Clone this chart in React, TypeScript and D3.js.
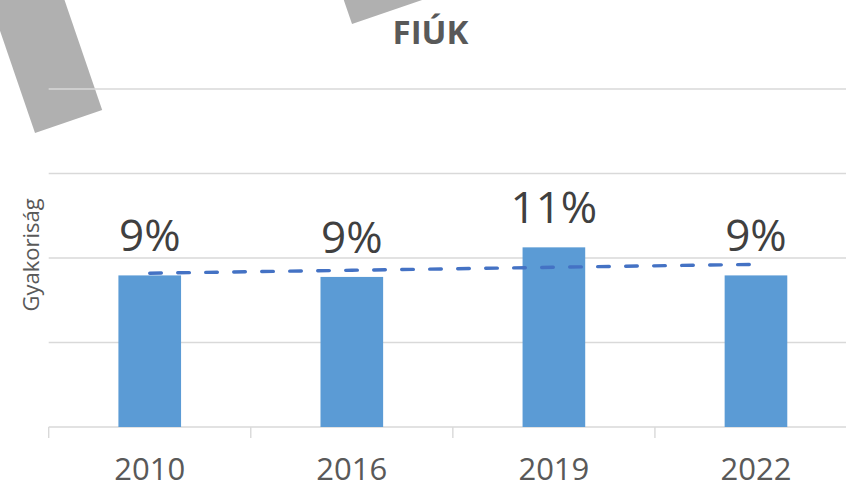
import React from "react";
import * as d3 from "d3";

// chart data
const years = ["2010", "2016", "2019", "2022"];
const values = [0.0897, 0.0888, 0.1063, 0.0897];
const yTicks = [0, 0.05, 0.1, 0.15, 0.2];
const title = "FIÚK";
const yLabel = "Gyakoriság";

const width = 846;
const height = 489;
const margin = { top: 89, right: -11, bottom: 62, left: 48.7 };
const font = "'Open Sans', sans-serif";

const App = () => {
  const x = d3
    .scaleBand<string>()
    .domain(years)
    .range([margin.left, width - margin.right])
    .padding(0);

  const y = d3
    .scaleLinear()
    .domain([0, 0.2])
    .range([height - margin.bottom, margin.top]);

  const barW = x.bandwidth() * 0.31;
  const cx = (d: string) => (x(d) ?? 0) + x.bandwidth() / 2;
  const fmt = d3.format(".0%");

  // linear trendline (least squares over category index)
  const idx = values.map((_, i) => i);
  const mx = d3.mean(idx) ?? 0;
  const my = d3.mean(values) ?? 0;
  const slope =
    d3.sum(idx, (i) => (i - mx) * (values[i] - my)) /
    d3.sum(idx, (i) => (i - mx) ** 2);
  const trend = idx.map((i) => ({ x: cx(years[i]), v: my + slope * (i - mx) }));
  const trendLine = d3
    .line<{ x: number; v: number }>()
    .x((d) => d.x)
    .y((d) => y(d.v));

  const base = y(0);
  const boundaries = years.map((d) => x(d) ?? 0);

  return (
    <svg
      width={width}
      height={height}
      style={{ position: "fixed", left: 0, top: 0, display: "block", background: "#fff" }}
    >
      {/* decorative tape shapes */}
      <rect x={0} y={-300} width={71} height={300} fill="#B0B0B0"
        transform="translate(35,133) rotate(-18.9)" />
      <rect x={0} y={-200} width={300} height={200} fill="#B0B0B0"
        transform="translate(352,24) rotate(-18.9)" />

      <text x={430.5} y={44} textAnchor="middle" fontFamily={font}
        fontWeight={700} fontSize={33} fill="#595959">{title}</text>

      <g className="grid">
        {yTicks.map((t) => (
          <line key={t} x1={margin.left} x2={width} y1={y(t)} y2={y(t)}
            stroke="#D9D9D9" strokeWidth={1.4} />
        ))}
      </g>

      <g className="ticks">
        {boundaries.map((b, i) => (
          <line key={i} x1={b} x2={b} y1={base} y2={base + 11}
            stroke="#D9D9D9" strokeWidth={1.4} />
        ))}
      </g>

      <g className="bars">
        {years.map((d, i) => (
          <rect key={d} x={cx(d) - barW / 2} y={y(values[i])} width={barW}
            height={base - y(values[i])} fill="#5B9BD5" />
        ))}
      </g>

      <path d={trendLine(trend) ?? ""} fill="none" stroke="#4472C4"
        strokeWidth={3.4} strokeDasharray="11.6 16.4" strokeLinecap="round" />

      <g className="labels">
        {years.map((d, i) => (
          <text key={d} x={cx(d)} y={y(values[i]) - 24} textAnchor="middle"
            fontFamily={font} fontSize={44} fill="#404040">{fmt(values[i])}</text>
        ))}
      </g>

      <g className="x-axis">
        {years.map((d) => (
          <text key={d} x={cx(d)} y={480} textAnchor="middle" fontFamily={font}
            fontSize={31} fill="#595959">{d}</text>
        ))}
      </g>

      <text transform="translate(39,255) rotate(-90)" textAnchor="middle"
        fontFamily={font} fontSize={22} fill="#595959">{yLabel}</text>
    </svg>
  );
};

export default App;
